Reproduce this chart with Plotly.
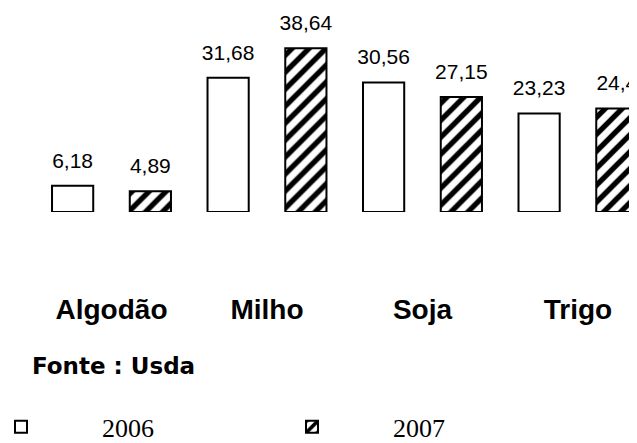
import plotly.graph_objects as go

categories = ["Algodão", "Milho", "Soja", "Trigo"]
series_names = ["2006", "2007"]
values_2006 = [6.18, 31.68, 30.56, 23.23]
values_2007 = [4.89, 38.64, 27.15, 24.4]
source_note = "Fonte : Usda"


def fmt(v):
    return f"{v:g}".replace(".", ",")


fig = go.Figure()

# bars
fig.add_trace(go.Bar(
    x=categories, y=values_2006, name=series_names[0], offsetgroup="a",
    marker=dict(color="white", line=dict(color="black", width=2)),
    hoverinfo="skip",
))
fig.add_trace(go.Bar(
    x=categories, y=values_2007, name=series_names[1], offsetgroup="b",
    marker=dict(color="white", line=dict(color="black", width=2),
                pattern=dict(shape="/", size=12, solidity=0.45,
                             fgcolor="black", bgcolor="white", fillmode="replace")),
    hoverinfo="skip",
))

# value labels (invisible markers push text above bar tops)
for name, vals, grp in [(series_names[0], values_2006, "a"), (series_names[1], values_2007, "b")]:
    fig.add_trace(go.Scatter(
        x=categories, y=vals, mode="markers+text", offsetgroup=grp,
        text=[fmt(v) for v in vals], textposition="top center",
        textfont=dict(family="Liberation Sans, Arial", size=21, color="black"),
        marker=dict(size=19, color="rgba(0,0,0,0)"),
        showlegend=False, hoverinfo="skip", cliponaxis=False,
    ))

fig.add_annotation(
    text=source_note, xref="paper", yref="paper", x=22 / 637, y=-0.762,
    xanchor="left", yanchor="middle", showarrow=False,
    font=dict(family="DejaVu Sans", size=23, color="black", weight="bold"),
)

fig.update_layout(
    width=637, height=443,
    margin=dict(l=0, r=0, t=2, b=239, autoexpand=False),
    paper_bgcolor="white", plot_bgcolor="white",
    barmode="group", bargap=0, bargroupgap=0.47,
    scattermode="group", scattergap=0,
    showlegend=True,
    legend=dict(
        orientation="h", x=-68 / 637, xanchor="left", y=-1.064, yanchor="middle",
        itemwidth=152, entrywidth=124, entrywidthmode="pixels",
        font=dict(family="Liberation Serif, Times New Roman", size=26, color="black"),
        bgcolor="rgba(0,0,0,0)",
    ),
    xaxis=dict(
        range=[-0.6656, 3.431], showline=False, showgrid=False, zeroline=False,
        ticks="", ticklabelstandoff=78,
        tickfont=dict(family="Liberation Sans, Arial", size=28, color="black", weight="bold"),
    ),
    yaxis=dict(range=[0, 47.64], visible=False),
)

fig.write_html("out.html")
